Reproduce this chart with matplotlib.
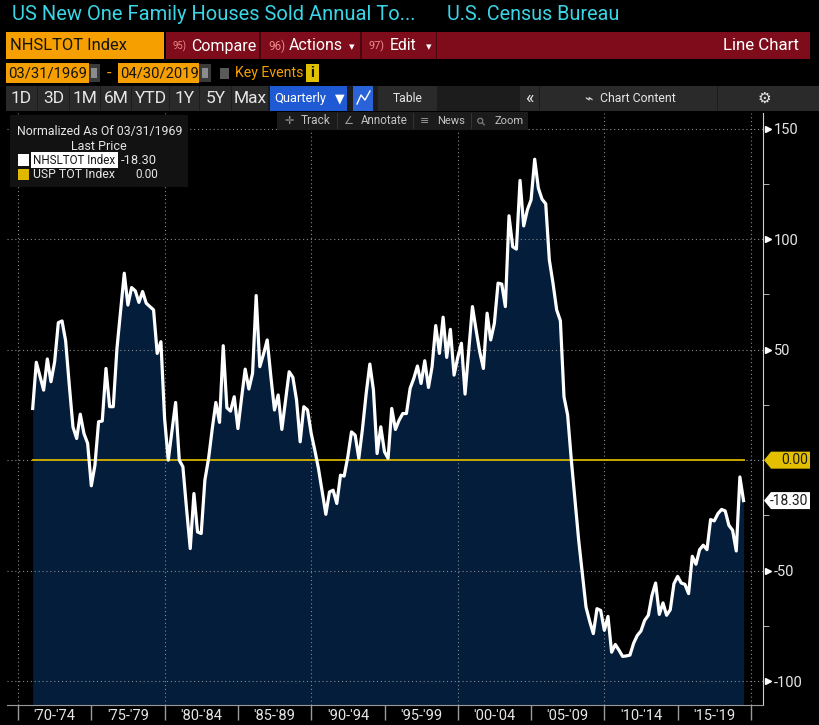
import matplotlib
matplotlib.use("Agg")
import matplotlib.pyplot as plt
from matplotlib.patches import Rectangle, Polygon
from matplotlib.lines import Line2D
from matplotlib.ticker import MultipleLocator
from matplotlib.transforms import blended_transform_factory
import numpy as np
import pandas as pd

plt.rcParams['font.family'] = ['Roboto', 'DejaVu Sans']

# NHSLTOT Index, quarterly, normalized to 03/31/1969 (% change), first point 1970Q4
first_quarter = "1970Q4"
nhsl_values = [
    23.4, 44.3, 38.0, 31.7, 45.8, 35.5, 44.5, 62.2, 63.0, 54.0,
    34.0, 15.0, 9.8, 20.8, 12.1, 7.6, -11.6, -2.3, 17.4, 17.7,
    41.5, 24.2, 24.2, 50.6, 68.0, 84.6, 70.2, 78.1, 76.6, 71.4,
    76.3, 71.0, 69.5, 68.0, 48.3, 53.6, 18.9, 0.0, 13.0, 26.1,
    0.0, -3.0, -22.0, -40.0, -15.1, -32.5, -33.2, -9.0, 0.8, 14.0,
    26.1, 17.1, 51.8, 23.7, 22.2, 28.7, 14.3, 28.0, 41.2, 32.2,
    39.3, 74.5, 42.3, 48.0, 54.4, 38.0, 22.7, 29.5, 13.9, 27.0,
    40.0, 37.5, 27.2, 8.3, 24.2, 22.7, 12.1, 4.5, -3.8, -14.0,
    -24.5, -14.4, -13.6, -19.6, -6.8, -7.2, 1.5, 12.8, 11.3, 0.8,
    14.0, 30.0, 43.5, 31.7, 3.0, 15.1, 3.8, 0.8, 23.4, 13.9,
    18.1, 21.1, 21.1, 32.5, 37.0, 42.6, 34.7, 45.0, 32.9, 42.3,
    60.9, 48.3, 64.7, 46.5, 59.2, 38.5, 46.5, 52.9, 29.9, 50.0,
    69.5, 59.0, 49.1, 41.5, 66.5, 54.4, 61.9, 80.1, 79.7, 69.5,
    110.6, 96.6, 95.5, 126.6, 106.0, 113.3, 117.8, 136.2, 123.1, 118.1,
    116.0, 90.6, 80.1, 68.0, 63.1, 28.7, 20.4, 0.0, -18.1, -36.2,
    -51.3, -66.5, -73.0, -78.5, -67.2, -68.0, -77.0, -70.7, -86.9, -83.4,
    -86.0, -88.8, -88.6, -88.2, -82.8, -79.3, -77.3, -72.5, -70.2, -61.2,
    -55.6, -69.8, -64.6, -70.2, -67.7, -55.9, -52.6, -55.6, -56.2, -60.4,
    -43.5, -47.1, -40.5, -38.5, -40.5, -26.9, -27.5, -24.2, -22.3, -23.0,
    -29.5, -31.7, -41.1, -7.6, -18.3,
]
usp_values = [0.0] * len(nhsl_values)
last_price = "-18.30"
usp_last = "0.00"

band_years = [1970, 1975, 1980, 1985, 1990, 1995, 2000, 2005, 2010, 2015]
band_labels = ["'70-'74", "'75-'79", "'80-'84", "'85-'89", "'90-'94",
               "'95-'99", "'00-'04", "'05-'09", "'10-'14", "'15-'19"]
grid_years = [1970, 1980, 1990, 2000, 2010, 2020]
y_major = [-100, -50, 0, 50, 100, 150]
y_labels = ["-100", "-50", "", "50", "100", "150"]

W, H = 820, 725
fig = plt.figure(figsize=(W / 100, H / 100), dpi=100, facecolor="black")
renderer = fig.canvas.get_renderer()

ORANGE = "#f5a000"
RED = "#7e0c1b"
CYAN = "#3ad6e6"
BTN = "#2a2a2a"
GREY_TXT = "#e6e6e6"


def rect(x0, y0, x1, y1, color):
    fig.patches.append(Rectangle((x0 / W, 1 - y1 / H), (x1 - x0) / W, (y1 - y0) / H,
                                 transform=fig.transFigure, facecolor=color,
                                 edgecolor="none", zorder=1))


def txt(x, y, s, size, color, ha="left", width=None, **kw):
    t = fig.text(x / W, 1 - y / H, s, fontsize=size, color=color, ha=ha, va="center", **kw)
    if width:
        bw = t.get_window_extent(renderer).width
        if bw > 0:
            t.set_fontsize(min(size * width / bw, size * 1.25))
    return t


# ---- main chart
ax = fig.add_axes([7 / W, 20 / H, 756 / W, 592 / H])
ax.set_facecolor("black")
dates = pd.period_range(first_quarter, periods=len(nhsl_values), freq="Q").to_timestamp(how="end").normalize()

ymin, ymax = -110.8, 157.1
ax.set_ylim(ymin, ymax)
ax.set_xlim(pd.Timestamp("1969-03-31"), pd.Timestamp("2020-10-27"))

ax.fill_between(dates, nhsl_values, ymin, color="#031d3b", lw=0, zorder=1)
for gy in grid_years:
    ax.axvline(pd.Timestamp(f"{gy}-01-01"), color="#8a8a8a", lw=0.8, ls=(0, (1, 2.5)), zorder=2)
ax.plot(dates, usp_values, color="#c9a800", lw=1.4, zorder=3)
ax.plot(dates, nhsl_values, color="white", lw=2.3, zorder=4)

ax.yaxis.grid(True, color="#8a8a8a", lw=0.8, ls=(0, (1, 2.5)), zorder=2)
ax.set_axisbelow(False)

for s in ["top", "left"]:
    ax.spines[s].set_visible(False)
ax.spines["right"].set_color("#cfcfcf")
ax.spines["bottom"].set_color("#9a9a9a")

ax.yaxis.tick_right()
ax.set_yticks(y_major)
ax.set_yticklabels(y_labels)
ax.yaxis.set_minor_locator(MultipleLocator(25))
ax.tick_params(axis="y", which="major", length=0, pad=8, labelsize=10.5, labelcolor=GREY_TXT)
ax.tick_params(axis="y", which="minor", length=4, color="#cfcfcf", direction="out")
trans = blended_transform_factory(ax.transAxes, ax.transData)
ax.plot([1.006] * 5, [v for v in y_major if v != 0], ls="none", marker=">", ms=4.5,
        color="white", transform=trans, clip_on=False)

ax.set_xticks([pd.Timestamp(f"{y}-01-01") for y in band_years + [2020]])
ax.set_xticklabels([])
ax.set_xticks([pd.Timestamp(f"{y + 2}-07-02") for y in band_years], minor=True)
ax.set_xticklabels(band_labels, minor=True)
ax.tick_params(axis="x", which="major", length=11, width=1, color="#9a9a9a", direction="out")
ax.tick_params(axis="x", which="minor", length=0, pad=3, labelsize=10.5, labelcolor=GREY_TXT)


def tag(value, s, fc, tc):
    _, yp = ax.transData.transform((0, value))
    yt = H - yp
    x0, x1, h = 764, 810, 8.5
    pts = [(x0, yp), (x0 + 7, yp + h), (x1, yp + h), (x1, yp - h), (x0 + 7, yp - h)]
    fig.patches.append(Polygon([(px / W, py / H) for px, py in pts], closed=True,
                               transform=fig.transFigure, facecolor=fc, edgecolor="none", zorder=2))
    txt(x1 - 2, yt, s, 10, tc, ha="right")


tag(usp_values[-1], usp_last, "#e3bf00", "#1a1a1a")
tag(nhsl_values[-1], last_price, "white", "#1a1a1a")

# ---- header row 1
txt(12, 15, "US New One Family Houses Sold Annual To...", 17, CYAN, width=404)
txt(447, 15, "U.S. Census Bureau", 17, CYAN, width=173)

# ---- header row 2
rect(6, 32, 164, 59, ORANGE)
txt(10, 46, "NHSLTOT Index", 15, "#141414", width=117)
rect(166, 32, 810, 59, RED)
for sx in [259.5, 360.5, 436]:
    rect(sx, 32, sx + 1.5, 59, "#4a0610")
PINK = "#ee8a8a"
txt(173, 46, "95)", 13, PINK, width=14)
txt(191, 46, "Compare", 15, "white", width=65)
txt(268, 46, "96)", 13, PINK, width=17)
txt(289, 46, "Actions", 15, "white", width=54)
txt(349, 47, "▾", 8, "white")
txt(369, 46, "97)", 13, PINK, width=16)
txt(390, 46, "Edit", 15, "white", width=27)
txt(426, 47, "▾", 8, "white")
txt(799, 46, "Line Chart", 15, "white", ha="right", width=76)

# ---- header row 3
rect(6, 63, 89, 83, ORANGE)
txt(8, 73, "03/31/1969", 13, "#141414", width=79)
rect(89, 64, 100, 82, "#3a3a3a")
rect(91.5, 68, 97.5, 78, "#8c8c8c")
txt(109, 73, "-", 12, ORANGE, ha="center")
rect(118, 63, 199, 83, ORANGE)
txt(120, 73, "04/30/2019", 13, "#141414", width=78)
rect(199, 64, 211, 82, "#3a3a3a")
rect(202, 68, 208, 78, "#8c8c8c")
rect(220, 68, 229, 79, "#5a5a5a")
txt(235, 73, "Key Events", 14, ORANGE, width=69)
rect(306, 64, 319, 82, "#e0c000")
txt(312.5, 73, "i", 11, "#141414", ha="center", fontweight="bold")

# ---- header row 4
rect(6, 86, 820, 111, "#1c1c1c")
buttons = [(6, 37, "1D"), (38, 69, "3D"), (70, 100, "1M"), (101, 131, "6M"),
           (132, 169, "YTD"), (170, 199, "1Y"), (200, 231, "5Y"), (232, 268, "Max")]
for bx0, bx1, lab in buttons:
    rect(bx0, 86, bx1, 111, BTN)
    txt((bx0 + bx1) / 2, 98.5, lab, 12.5, GREY_TXT, ha="center")
rect(270, 86, 347, 111, "#1f5ad4")
txt(274, 98.5, "Quarterly", 13, "white", width=52)
txt(335, 98.5, "▼", 9, "white")
rect(353, 86, 373, 111, "#2a62d8")
fig.lines.append(Line2D([357 / W, 361 / W, 365 / W, 370 / W],
                        [1 - 104 / H, 1 - 95 / H, 1 - 100 / H, 1 - 91 / H],
                        transform=fig.transFigure, color="white", lw=1))
rect(378, 86, 437, 111, BTN)
txt(408, 98.5, "Table", 13, GREY_TXT, ha="center", width=30)
rect(520, 86, 539, 111, BTN)
txt(529.5, 98, "«", 13, GREY_TXT, ha="center")
rect(540, 86, 717, 111, BTN)
txt(584, 98.5, "⌁", 10, GREY_TXT)
txt(600, 98.5, "Chart Content", 13, GREY_TXT, width=76)
rect(718, 86, 820, 111, BTN)
txt(764, 98.5, "⚙", 11, GREY_TXT, ha="center")

# ---- in-chart toolbar
rect(277, 112, 528, 130, "#1b1b1b")
for sx in [337, 413, 471]:
    rect(sx, 113, sx + 1, 129, "#333333")
txt(289, 121, "✛", 8, "#9a9a9a", ha="center")
txt(301, 121, "Track", 10, "#c4c4c4", width=30)
txt(348, 121, "∠", 8, "#9a9a9a", ha="center")
txt(361, 121, "Annotate", 10, "#c4c4c4", width=47)
txt(425, 121, "≡", 8, "#9a9a9a", ha="center")
txt(437, 121, "News", 10, "#c4c4c4", width=28)
txt(482, 121, "⚲", 8, "#9a9a9a", ha="center", rotation=45)
txt(495, 121, "Zoom", 10, "#c4c4c4", width=29)

# ---- legend box
rect(10, 115, 188, 187, "#121212")
txt(17, 131, "Normalized As Of 03/31/1969", 10.5, GREY_TXT, width=166)
txt(99, 146, "Last Price", 10.5, GREY_TXT, ha="center", width=56)
rect(18, 154, 29, 166, "white")
rect(31, 152, 118, 168, "white")
txt(33, 160, "NHSLTOT Index", 10.5, "#141414", width=83)
txt(121, 160, last_price, 10.5, GREY_TXT, width=36)
rect(18, 168.5, 29, 180, "#e0b800")
txt(33, 174.5, "USP TOT Index", 10.5, GREY_TXT, width=82)
txt(158, 174.5, usp_last, 10.5, GREY_TXT, ha="right", width=23)

fig.savefig("out.png", dpi=100, facecolor="black")
